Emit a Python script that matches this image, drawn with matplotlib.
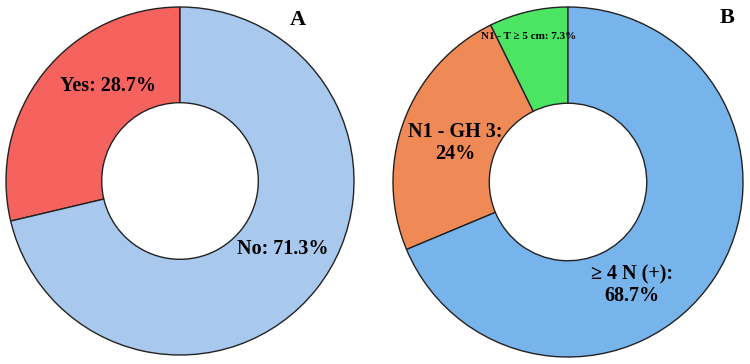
import matplotlib
matplotlib.use("Agg")
import matplotlib.pyplot as plt

plt.rcParams['font.family'] = ['Liberation Serif', 'DejaVu Serif']
plt.rcParams['font.weight'] = 'bold'

# panel A
labels_a = ['Yes', 'No']
values_a = [28.7, 71.3]
colors_a = ['#F6635E', '#A8C9ED']

# panel B
labels_b = ['N1 - T \u2265 5 cm', 'N1 - GH 3', '\u2265 4 N (+)']
values_b = [7.3, 24.0, 68.7]
colors_b = ['#4BE463', '#EF8A57', '#78B4EC']

W, H = 750, 364
fig = plt.figure(figsize=(7.5, 3.64), dpi=100)


def donut_axes(cx, cy, r):
    # pixel centre/radius -> figure fraction box
    return fig.add_axes([(cx - r) / W, (H - cy - r) / H, 2 * r / W, 2 * r / H])


def draw_donut(ax, values, colors):
    ax.pie(values, colors=colors, startangle=90, counterclock=True,
           radius=1, wedgeprops=dict(width=0.55, edgecolor='#222222', linewidth=1.0))
    ax.set_xlim(-1, 1)
    ax.set_ylim(-1, 1)
    ax.set_aspect('equal')
    ax.axis('off')


axA = donut_axes(180, 181, 174)
draw_donut(axA, values_a, colors_a)
axA.text(-0.414, 0.546, f"{labels_a[0]}: {values_a[0]}%", ha='center', va='center', fontsize=14.5)
axA.text(0.592, -0.391, f"{labels_a[1]}: {values_a[1]}%", ha='center', va='center', fontsize=14.5)
axA.text(0.678, 0.925, 'A', ha='center', va='center', fontsize=16)

axB = donut_axes(568, 182, 175)
draw_donut(axB, values_b, colors_b)
axB.text(-0.223, 0.829, f"{labels_b[0]}: {values_b[0]}%", ha='center', va='center', fontsize=8)
axB.text(-0.646, 0.223, f"{labels_b[1]}:\n{values_b[1]:g}%", ha='center', va='center', fontsize=14.5,
         linespacing=1.1)
axB.text(0.366, -0.589, f"{labels_b[2]}:\n{values_b[2]}%", ha='center', va='center', fontsize=14.5,
         linespacing=1.1)
axB.text(0.909, 0.937, 'B', ha='center', va='center', fontsize=16)

fig.savefig('out.png', dpi=100)
